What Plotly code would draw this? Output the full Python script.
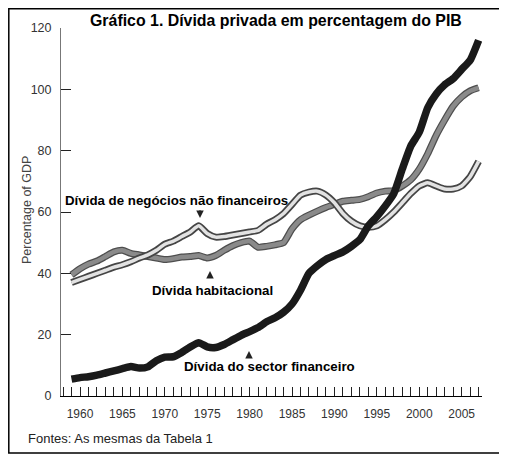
import plotly.graph_objects as go

# Annual data (% of GDP)
years = list(range(1959, 2008))

financial = [5.5, 6.0, 6.3, 6.8, 7.5, 8.2, 8.9, 9.6, 9.1, 9.5,
             11.5, 12.7, 12.8, 14.2, 16.0, 17.4, 16.0, 15.8, 16.8, 18.3,
             19.8, 21.0, 22.3, 24.2, 25.5, 27.3, 30.0, 34.5, 40.0, 42.5,
             44.5, 45.8, 47.0, 48.8, 51.0, 55.5, 58.5, 62.0, 66.0, 74.0,
             81.5, 86.0, 94.0, 98.5, 101.5, 103.5, 106.5, 109.5, 116.0]

household = [39.5, 41.5, 43.0, 44.0, 45.5, 47.0, 47.5, 46.5, 46.0, 45.5,
             45.0, 44.5, 44.8, 45.3, 45.5, 45.8, 45.0, 45.8, 47.5, 49.0,
             50.0, 50.5, 48.5, 48.8, 49.3, 50.0, 54.5, 57.5, 59.0, 60.3,
             61.5, 62.5, 63.5, 63.8, 64.1, 65.0, 66.2, 66.8, 67.0, 68.5,
             70.5, 74.0, 79.0, 85.0, 90.0, 94.5, 97.5, 99.5, 100.5]

business = [37.0, 38.0, 39.0, 40.0, 41.0, 42.0, 42.8, 43.8, 45.0, 46.0,
            47.5, 49.5, 50.5, 52.0, 53.5, 55.5, 53.0, 51.8, 52.0, 52.5,
            53.0, 53.5, 54.0, 56.0, 57.5, 59.5, 62.5, 65.5, 66.5, 66.8,
            65.5, 63.0, 59.5, 57.0, 55.5, 55.0, 55.5, 57.5, 60.0, 63.0,
            66.0, 68.5, 69.5, 68.5, 67.5, 67.5, 68.5, 71.5, 76.5]

tick_years = list(range(1958, 2008))
tick_text = [str(y) if y % 5 == 0 else "" for y in tick_years]

# page geometry: the figure sits 8px in from the page corner (body margin)
W, H = 507, 459
OFF = 8


def fx(x):
    return (x - OFF) / W


def fy(y):
    return 1 - (y - OFF) / H


# plot box on the page
X0, X1, Y0, Y1 = 61, 482, 28, 396

fig = go.Figure()

spl = dict(shape="spline", smoothing=0.5)
# household debt (grey with dark edge)
fig.add_trace(go.Scatter(x=years, y=household, mode="lines",
                         line=dict(color="#4e4e4e", width=7, **spl)))
fig.add_trace(go.Scatter(x=years, y=household, mode="lines",
                         line=dict(color="#8a8a8a", width=4.5, **spl)))
# non-financial business debt (light with dark outline)
fig.add_trace(go.Scatter(x=years, y=business, mode="lines",
                         line=dict(color="#454545", width=7, **spl)))
fig.add_trace(go.Scatter(x=years, y=business, mode="lines",
                         line=dict(color="#e2e2e2", width=3.5, **spl)))
# financial sector debt (black)
fig.add_trace(go.Scatter(x=years, y=financial, mode="lines",
                         line=dict(color="#1a1a1a", width=7.5, **spl)))

bold_font = dict(family="Liberation Sans, Arial", size=13.3, color="black")

annotations = [
    dict(text="<b>Gráfico 1. Dívida privada em percentagem do PIB</b>", x=fx(276), y=fy(20),
         font=dict(family="Liberation Sans, Arial", size=15.9, color="black")),
    dict(text="Percentage of GDP", x=fx(27), y=fy(210), textangle=-90,
         font=dict(family="Liberation Sans, Arial", size=12.5, color="#444444")),
    dict(text="<b>Dívida de negócios não financeiros</b>", x=fx(176), y=fy(200), font=bold_font),
    dict(text="<b>Dívida habitacional</b>", x=fx(212), y=fy(290), font=bold_font),
    dict(text="<b>Dívida do sector financeiro</b>", x=fx(269), y=fy(366), font=bold_font),
    dict(text="Fontes: As mesmas da Tabela 1", x=fx(26), y=fy(438), xanchor="left",
         font=dict(family="Liberation Sans, Arial", size=13, color="#222222")),
]
for a in annotations:
    a.update(xref="paper", yref="paper", showarrow=False)
    a.setdefault("xanchor", "center")
    a.setdefault("yanchor", "middle")

# small arrows pointing at the series
for ax_, tip, tail in [(200, 218, 209), (210, 271, 279), (249, 351, 358)]:
    annotations.append(dict(text="", xref="paper", yref="paper", x=fx(ax_), y=fy(tip),
                            ax=0, ay=tail - tip, showarrow=True, arrowhead=2,
                            arrowsize=0.75, arrowwidth=2, arrowcolor="#222222", standoff=0))

fig.update_layout(
    width=W, height=H,
    margin=dict(l=0, r=0, t=0, b=0),
    paper_bgcolor="white", plot_bgcolor="white",
    showlegend=False,
    annotations=annotations,
    shapes=[dict(type="rect", xref="paper", yref="paper",
                 x0=fx(8.8), x1=fx(503), y0=fy(453), y1=fy(8.8),
                 line=dict(color="black", width=1.5))],
    xaxis=dict(domain=[fx(X0), fx(X1)], range=[1957.76, 2007.4],
               tickvals=tick_years, ticktext=tick_text,
               ticks="inside", ticklen=9, tickcolor="#222222", tickwidth=1,
               showline=True, linecolor="black", linewidth=1.2, automargin=False,
               showgrid=False, zeroline=False, ticklabelstandoff=6,
               tickfont=dict(family="Liberation Sans, Arial", size=12, color="#333333")),
    yaxis=dict(domain=[fy(Y1), fy(Y0)], range=[0, 120], tickvals=[0, 20, 40, 60, 80, 100, 120],
               ticks="inside", ticklen=10, tickcolor="#222222", tickwidth=1,
               showline=True, linecolor="#777777", linewidth=1, automargin=False,
               showgrid=False, zeroline=False, ticklabelstandoff=6,
               tickfont=dict(family="Liberation Sans, Arial", size=12.5, color="#333333")),
)

fig.write_html("out.html")
